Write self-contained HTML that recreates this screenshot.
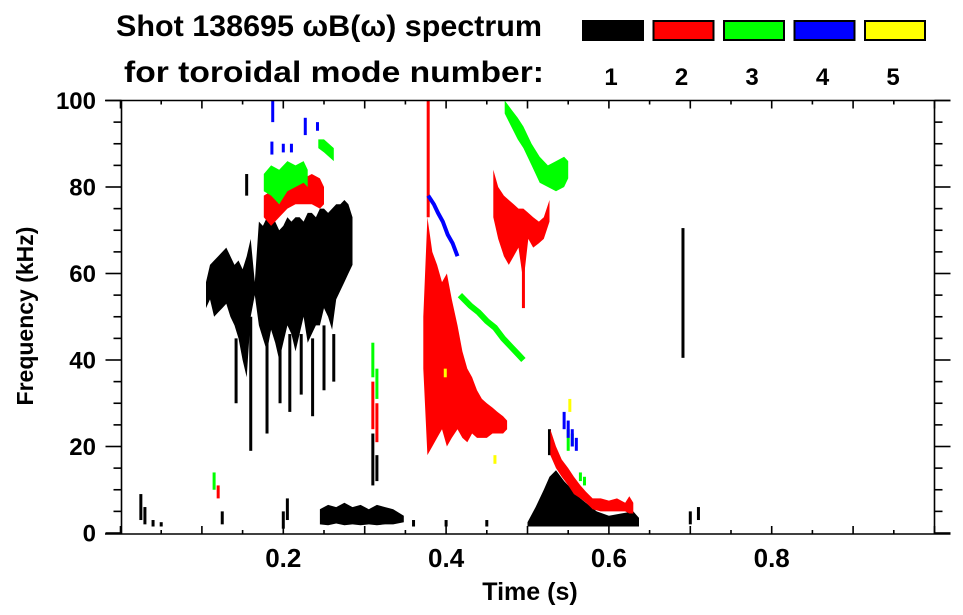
<!DOCTYPE html>
<html><head><meta charset="utf-8"><style>
html,body{margin:0;padding:0;background:#fff;}
svg{display:block;font-family:"Liberation Sans",Arial,sans-serif;font-weight:bold;}
</style></head><body>
<svg id="chart" width="963" height="615" viewBox="0 0 963 615" xmlns="http://www.w3.org/2000/svg">
<text x="116" y="36" font-size="30" textLength="426" lengthAdjust="spacingAndGlyphs">Shot 138695 ωB(ω) spectrum</text>
<text x="124" y="82" font-size="30" textLength="420" lengthAdjust="spacingAndGlyphs">for toroidal mode number:</text>
<g id="legend"></g>
<g id="marks"></g>
<g id="axes"></g>
<text x="530" y="600" font-size="25" text-anchor="middle">Time (s)</text>
<text transform="translate(33,316) rotate(-90)" font-size="23" text-anchor="middle">Frequency (kHz)</text>
</svg>
<script>
// ---- data ----
var modeNumbers = [1, 2, 3, 4, 5];
var modeColors = ["#000000", "#ff0000", "#00ff00", "#0000ff", "#ffff00"];
var xTicks = [0.2, 0.4, 0.6, 0.8];
var yTicks = [0, 20, 40, 60, 80, 100];

// mode 1 main blob
var m1MainT = [.105,.11,.115,.12,.125,.13,.135,.14,.145,.15,.155,.16,.165,.17,.175,.18,.185,.19,.195,.20,.205,.21,.215,.22,.225,.23,.235,.24,.245,.25,.255,.26,.265,.27,.275,.28,.285];
var m1MainTop = [58,62,63,64,65,66,64,62,63,61,64,68,58,72,71,73,72,72,70,71,73,72,73,73,72,74,74,73,75,75,74,75,76,76,77,76,73];
var m1MainBot = [52,54,50,51,52,53,50,48,45,40,36,50,55,48,45,42,47,44,40,44,48,46,42,46,50,44,46,48,48,52,50,47,54,56,58,60,62];
// mode 1 low band
var m1BandT = [.245,.255,.265,.275,.285,.295,.305,.315,.325,.335,.348];
var m1BandTop = [5.5,6.5,6,7,6,6.5,5.5,6.5,6,5.5,4];
var m1BandBot = [2,1.8,2.2,1.8,2,1.8,2,1.8,2,2,2.5];
// mode 1 hump
var m1HumpT = [.50,.51,.52,.527,.535,.545,.555,.565,.575,.585,.60,.615,.63,.637];
var m1HumpTop = [2.5,6,10,13,14.5,12,10,8,6.5,5,4,4.5,5,3.5];
var m1HumpBot = [1.5,1.5,1.5,1.5,1.5,1.5,1.5,1.5,1.5,1.5,1.5,1.5,1.5,1.5];
// mode 1 small features: [t, lo, hi]
var m1StreakT = [.142,.16,.18,.196,.208,.222,.236,.25,.262,.155,.691,.025,.03,.04,.05,.125,.2,.205,.31,.315,.527,.36,.40,.45,.70,.71];
var m1StreakLo = [30,19,23,30,28,32,27,33,35,78,40.5,3,2,1.5,1.5,2,1,3,11,12,18,1.5,1.5,1.5,2,3];
var m1StreakHi = [45,50,45,44,46,46,45,48,46,83,70.5,9,6,3,2.5,5,5,8,23,18,24,3,3,3,5,6];

// mode 2
var m2UpperT = [.176,.185,.195,.205,.215,.225,.235,.245,.25];
var m2UpperTop = [78,79,76,80,82,82,83,82,80];
var m2UpperBot = [73,71,73,75,76,76,76,75,76];
var m2BigT = [.372,.377,.383,.389,.395,.401,.407,.414,.42,.426,.432,.438,.444,.45,.457,.463,.47,.475];
var m2BigTop = [50,73,65,62,58,60,54,48,42,38,36,33,31,30,29,28,27,26];
var m2BigBot = [38,18,20,22,24,20,22,24,22,21,23,22,22,22,23,23,23,24];
var m2HighT = [.458,.464,.471,.477,.483,.489,.495,.501,.507,.514,.52,.527];
var m2HighTop = [84,80,78,77,76,75,75,74,73,72,73,77];
var m2HighBot = [73,68,64,62,64,66,58,68,66,67,68,72];
var m2LowT = [.528,.535,.542,.55,.557,.565,.572,.58,.59,.60,.61,.62,.625,.63];
var m2LowTop = [24,20,17,15,13,11,9.5,8,8,7.5,8,7,8.5,7];
var m2LowBot = [18,15,13,11,9,8,7,5.5,5,5,5,5,4.5,4.5];
var m2StreakT = [.378,.31,.315,.495,.12];
var m2StreakLo = [73,24,21,52,8];
var m2StreakHi = [100,35,30,66,11];

// mode 3
var m3UpperT = [.176,.185,.195,.205,.215,.225,.23];
var m3UpperTop = [83,85,84,86,85,86,84];
var m3UpperBot = [79,78,76,79,80,81,80];
var m3TopT = [.243,.25,.256,.262];
var m3TopTop = [91,91,90,89];
var m3TopBot = [89,88,87,86];
var m3DiagHiT = [.472,.48,.488,.495,.505,.515,.525,.535,.545,.55];
var m3DiagHiTop = [100,98,96,94,90,87,85,86,87,86];
var m3DiagHiBot = [97,94,91,89,85,81,80,79,80,82];
var m3DiagMidT = [.417,.43,.44,.45,.46,.47,.48,.49,.495];
var m3DiagMidF = [55,52.5,51,49,47.5,45,43,41,40];
var m3StreakT = [.31,.315,.55,.555,.565,.57,.115];
var m3StreakLo = [36,31,19,20,12,11,10];
var m3StreakHi = [44,38,24,23,14,13,14];

// mode 4
var m4DiagT = [.378,.385,.39,.396,.402,.408,.414];
var m4DiagF = [78,76,74,72,69,67,64];
var m4StreakT = [.187,.186,.2,.21,.227,.242,.545,.55,.555,.56];
var m4StreakLo = [95,87.5,88,88,92,93,24,22,20,19];
var m4StreakHi = [100,90.5,90,90,96,95,28,26,24,22];

// mode 5
var m5StreakT = [.552,.399,.46];
var m5StreakLo = [28,36,16];
var m5StreakHi = [31,38,18];

// ---- scales ----
var X0 = 120.5, X1 = 934.5, Y0 = 533, Y1 = 100.5;
function xScale(t){ return X0 + t * (X1 - X0); }
function yScale(f){ return Y0 - f / 100 * (Y0 - Y1); }

var NS = "http://www.w3.org/2000/svg";
var marks = document.getElementById("marks");
var axes = document.getElementById("axes");
var legend = document.getElementById("legend");
function mk(tag, parent){ var e = document.createElementNS(NS, tag); parent.appendChild(e); return e; }

function band(ts, top, bot, color, name){
  var pts = [];
  for (var i = 0; i < ts.length; i++) pts.push(xScale(ts[i]).toFixed(1) + "," + yScale(top[i]).toFixed(1));
  for (var j = ts.length - 1; j >= 0; j--) pts.push(xScale(ts[j]).toFixed(1) + "," + yScale(bot[j]).toFixed(1));
  var p = mk("polygon", marks);
  p.setAttribute("points", pts.join(" "));
  p.setAttribute("fill", color);
  
  
}
function line(ts, fs, color, w, name){
  var pts = [];
  for (var i = 0; i < ts.length; i++) pts.push(xScale(ts[i]).toFixed(1) + "," + yScale(fs[i]).toFixed(1));
  var p = mk("polyline", marks);
  p.setAttribute("points", pts.join(" "));
  p.setAttribute("fill", "none");
  p.setAttribute("stroke", color);
  p.setAttribute("stroke-width", w);
  
  
}
function streaks(ts, lo, hi, color, name){
  for (var i = 0; i < ts.length; i++){
    var r = mk("rect", marks);
    r.setAttribute("x", xScale(ts[i]) - 1.5);
    r.setAttribute("width", 3);
    r.setAttribute("y", yScale(hi[i]));
    r.setAttribute("height", yScale(lo[i]) - yScale(hi[i]));
    r.setAttribute("fill", color);
    
    
  }
}

band(m1MainT, m1MainTop, m1MainBot, modeColors[0], "mode1-main-blob");
band(m1BandT, m1BandTop, m1BandBot, modeColors[0], "mode1-low-band");
band(m1HumpT, m1HumpTop, m1HumpBot, modeColors[0], "mode1-hump");
streaks(m1StreakT, m1StreakLo, m1StreakHi, modeColors[0], "mode1-streak");
band(m2UpperT, m2UpperTop, m2UpperBot, modeColors[1], "mode2-upper-band");
band(m2BigT, m2BigTop, m2BigBot, modeColors[1], "mode2-big-blob");
band(m2HighT, m2HighTop, m2HighBot, modeColors[1], "mode2-high-blob");
band(m2LowT, m2LowTop, m2LowBot, modeColors[1], "mode2-low-chirp");
streaks(m2StreakT, m2StreakLo, m2StreakHi, modeColors[1], "mode2-streak");
band(m3UpperT, m3UpperTop, m3UpperBot, modeColors[2], "mode3-upper-band");
band(m3TopT, m3TopTop, m3TopBot, modeColors[2], "mode3-top-band");
band(m3DiagHiT, m3DiagHiTop, m3DiagHiBot, modeColors[2], "mode3-high-diagonal");
line(m3DiagMidT, m3DiagMidF, modeColors[2], 6, "mode3-mid-diagonal");
streaks(m3StreakT, m3StreakLo, m3StreakHi, modeColors[2], "mode3-streak");
line(m4DiagT, m4DiagF, modeColors[3], 4, "mode4-diagonal");
streaks(m4StreakT, m4StreakLo, m4StreakHi, modeColors[3], "mode4-streak");
streaks(m5StreakT, m5StreakLo, m5StreakHi, modeColors[4], "mode5-streak");

// ---- axes ----
function ln(x1,y1,x2,y2,name){
  var l = mk("line", axes);
  l.setAttribute("x1",x1); l.setAttribute("y1",y1); l.setAttribute("x2",x2); l.setAttribute("y2",y2);
  l.setAttribute("stroke","#000"); l.setAttribute("stroke-width","1.6");
  
  
}
ln(105, Y0+1, X1+16, Y0+1, "x-axis-bottom");
ln(105, Y1, X1+16, Y1, "x-axis-top");
ln(X0+1, Y1, X0+1, Y0+1, "y-axis-left");
ln(X1, Y1, X1, Y0+1, "y-axis-right");
for (var k = 0; k <= 20; k++){
  var t = k * 0.05, xx = xScale(t), major = (k % 2 === 0), len = major ? 8 : 4;
  ln(xx, Y0+1, xx, Y0+1-len, "x-tick");
  ln(xx, Y1, xx, Y1+len, "x-tick-top");
}
for (var m = 0; m <= 20; m++){
  var f = m * 5, yy = yScale(f), maj = (m % 4 === 0), l2 = maj ? 16 : 8;
  ln(X0+1-l2, yy, X0+1, yy, "y-tick");
  ln(X1, yy, X1+l2, yy, "y-tick-right");
}
for (var a = 0; a < xTicks.length; a++){
  var tx = mk("text", axes);
  tx.setAttribute("x", xScale(xTicks[a])); tx.setAttribute("y", 567);
  tx.setAttribute("font-size", "26"); tx.setAttribute("text-anchor", "middle");
  tx.textContent = xTicks[a].toFixed(1);
  
  
}
for (var b = 0; b < yTicks.length; b++){
  var ty = mk("text", axes);
  ty.setAttribute("x", 96); ty.setAttribute("y", yScale(yTicks[b]) + 8.5);
  ty.setAttribute("font-size", "24"); ty.setAttribute("text-anchor", "end");
  ty.textContent = String(yTicks[b]);
  
  
}
// ---- legend ----
for (var c = 0; c < modeNumbers.length; c++){
  var lx = 582 + c * 70.5;
  var r = mk("rect", legend);
  r.setAttribute("x", lx + 1); r.setAttribute("y", 21); r.setAttribute("width", 60); r.setAttribute("height", 19);
  r.setAttribute("fill", modeColors[c]); r.setAttribute("stroke", "#000"); r.setAttribute("stroke-width", "2");
  
  
  var lt = mk("text", legend);
  lt.setAttribute("x", lx + 29); lt.setAttribute("y", 85);
  lt.setAttribute("font-size", "24"); lt.setAttribute("text-anchor", "middle");
  lt.textContent = String(modeNumbers[c]);
  
  
}
</script>
</body></html>
